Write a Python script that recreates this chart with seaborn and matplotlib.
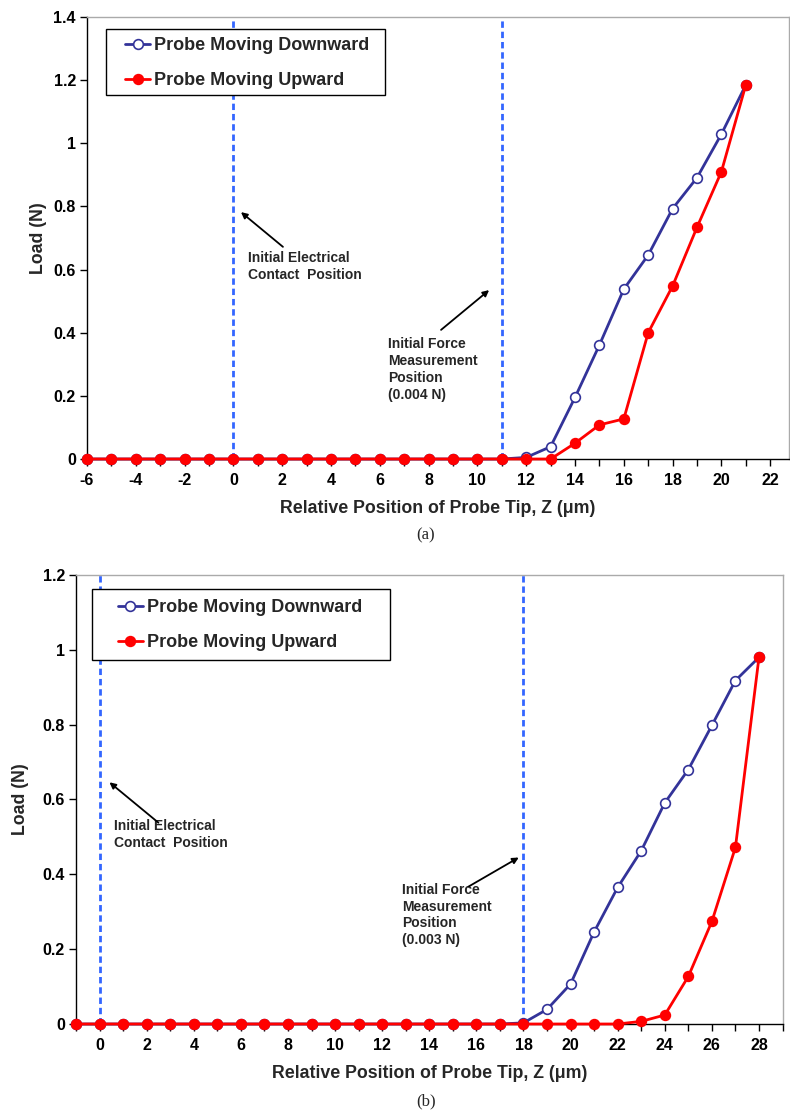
import matplotlib
matplotlib.use("Agg")
import matplotlib.pyplot as plt
import seaborn as sns
import pandas as pd
from matplotlib.patches import Rectangle
from matplotlib.ticker import MultipleLocator, FuncFormatter

# ---------------- data ----------------
top_x = [-6, -5, -4, -3, -2, -1, 0, 1, 2, 3, 4, 5, 6, 7, 8, 9, 10, 11,
         12, 13, 14, 15, 16, 17, 18, 19, 20, 21]
top_down = [0, 0, 0, 0, 0, 0, 0, 0, 0, 0, 0, 0, 0, 0, 0, 0, 0, 0,
            0.005, 0.039, 0.195, 0.361, 0.538, 0.646, 0.793, 0.891, 1.029, 1.185]
top_up = [0, 0, 0, 0, 0, 0, 0, 0, 0, 0, 0, 0, 0, 0, 0, 0, 0, 0,
          0, 0, 0.050, 0.108, 0.127, 0.400, 0.548, 0.734, 0.910, 1.185]

bot_x = [-1, 0, 1, 2, 3, 4, 5, 6, 7, 8, 9, 10, 11, 12, 13, 14, 15, 16, 17,
         18, 19, 20, 21, 22, 23, 24, 25, 26, 27, 28]
bot_down = [0, 0, 0, 0, 0, 0, 0, 0, 0, 0, 0, 0, 0, 0, 0, 0, 0, 0, 0,
            0.003, 0.039, 0.107, 0.246, 0.365, 0.463, 0.591, 0.680, 0.798, 0.918, 0.980]
bot_up = [0, 0, 0, 0, 0, 0, 0, 0, 0, 0, 0, 0, 0, 0, 0, 0, 0, 0, 0,
          0, 0, 0, 0, 0, 0.007, 0.024, 0.127, 0.274, 0.472, 0.980]

series_labels = ["Probe Moving Downward", "Probe Moving Upward"]
x_label = "Relative Position of Probe Tip, Z (\u03bcm)"
y_label = "Load (N)"
captions = ["(a)", "(b)"]
note_contact = "Initial Electrical\nContact  Position"
note_force_a = "Initial Force\nMeasurement\nPosition\n(0.004 N)"
note_force_b = "Initial Force\nMeasurement\nPosition\n(0.003 N)"

# ---------------- style ----------------
sns.set_theme(style="white")
plt.rcParams['font.family'] = ['Liberation Sans', 'DejaVu Sans']
plt.rcParams['font.weight'] = 'bold'

W, H = 790, 1111
fig = plt.figure(figsize=(W / 100, H / 100), dpi=100)

BLUE = "#333399"
RED = "#ff0000"
DASH = "#3366ff"


def px_axes(left, top, right, bottom):
    return fig.add_axes([left / W, 1 - bottom / H, (right - left) / W, (bottom - top) / H])


def draw_panel(ax, xs, down, up, xlim, ylim, xmaj_start, vlines, arrows,
               legend_box, legend_anchor, ylabel_x):
    df = pd.DataFrame({"x": xs, "down": down, "up": up})
    sns.lineplot(data=df, x="x", y="down", ax=ax, color=BLUE, lw=2.0, marker="o",
                 markersize=7, markerfacecolor="white", markeredgecolor=BLUE,
                 markeredgewidth=1.2, label=series_labels[0], clip_on=False, zorder=4)
    sns.lineplot(data=df, x="x", y="up", ax=ax, color=RED, lw=2.0, marker="o",
                 markersize=7, markerfacecolor=RED, markeredgecolor=RED,
                 markeredgewidth=1.2, label=series_labels[1], clip_on=False, zorder=5)
    for v in vlines:
        ax.axvline(v, color=DASH, lw=2.0, ls=(0, (2.3, 1.4)), zorder=2)
    ax.set_xlim(*xlim)
    ax.set_ylim(*ylim)
    ax.xaxis.set_major_locator(MultipleLocator(2))
    ax.xaxis.set_minor_locator(MultipleLocator(1))
    ax.yaxis.set_major_locator(MultipleLocator(0.2))
    ax.xaxis.set_major_formatter(FuncFormatter(lambda v, p: f"{v:g}" if v >= xmaj_start - 0.01 else ""))
    ax.yaxis.set_major_formatter(FuncFormatter(lambda v, p: f"{round(v, 1):g}"))
    ax.tick_params(axis="both", which="both", direction="out", colors="black",
                   labelsize=11.5, width=1)
    ax.tick_params(axis="x", which="major", length=5, pad=5)
    ax.tick_params(axis="x", which="minor", length=5)
    ax.tick_params(axis="y", which="major", length=5, pad=3)
    ax.tick_params(left=True, bottom=True, which="both")
    for lab in ax.get_xticklabels() + ax.get_yticklabels():
        lab.set_fontweight("bold")
    ax.spines["left"].set_color("black")
    ax.spines["bottom"].set_color("black")
    ax.spines["top"].set_color("#aaaaaa")
    ax.spines["right"].set_color("#aaaaaa")
    for s in ax.spines.values():
        s.set_linewidth(1.0)
    ax.set_xlabel(x_label, fontsize=12.8, fontweight="bold", labelpad=9)
    ax.set_ylabel(y_label, fontsize=12.8, fontweight="bold")
    ax.yaxis.set_label_coords(ylabel_x, 0.5)

    for xy, xytext in arrows:
        ax.annotate("", xy=xy, xytext=xytext,
                    arrowprops=dict(arrowstyle="-|>", color="black", lw=1.3,
                                    mutation_scale=9, shrinkA=0, shrinkB=0), zorder=6)
    # legend frame drawn as a separate box, legend itself frameless
    x0, y0, w, h = legend_box
    ax.add_patch(Rectangle((x0, y0), w, h, transform=ax.transAxes, facecolor="white",
                           edgecolor="black", lw=1.0, zorder=9, clip_on=False))
    leg = ax.legend(loc="center left", bbox_to_anchor=legend_anchor, frameon=False,
                    prop={"size": 13, "weight": "bold"}, handlelength=1.39,
                    handletextpad=0.22, labelspacing=0.99, borderpad=0,
                    borderaxespad=0)
    leg.set_zorder(10)
    return ax


# ---------- panel (a) ----------
ax1 = px_axes(87, 17, 789, 459)
draw_panel(ax1, top_x, top_down, top_up, (-6, 22.77), (0, 1.4), -6,
           [0, 11],
           [((0.31, 0.782), (2.03, 0.672)), ((10.48, 0.535), (8.51, 0.409))],
           (0.0271, 0.8235, 0.3974, 0.1493), (0.0541, 0.8959), -0.057)
ax1.text(0.58, 0.658, note_contact, fontsize=10, fontweight="bold",
         va="top", ha="left", linespacing=1.25)
ax1.text(6.35, 0.385, note_force_a, fontsize=10, fontweight="bold",
         va="top", ha="left", linespacing=1.25)

# ---------- panel (b) ----------
ax2 = px_axes(76, 575, 783, 1024)
draw_panel(ax2, bot_x, bot_down, bot_up, (-1, 29.02), (0, 1.2), 0,
           [0, 18],
           [((0.42, 0.646), (2.5, 0.538)), ((17.8, 0.445), (15.66, 0.367))],
           (0.0222, 0.8107, 0.4213, 0.1581), (0.0589, 0.8886), -0.067)
ax2.text(0.62, 0.547, note_contact, fontsize=10, fontweight="bold",
         va="top", ha="left", linespacing=1.25)
ax2.text(12.85, 0.377, note_force_b, fontsize=10, fontweight="bold",
         va="top", ha="left", linespacing=1.25)

fig.text(426 / W, 1 - 535 / H, captions[0], ha="center", va="center",
         fontsize=12, family=["Liberation Serif", "DejaVu Serif"], fontweight="normal")
fig.text(426 / W, 1 - 1101 / H, captions[1], ha="center", va="center",
         fontsize=12, family=["Liberation Serif", "DejaVu Serif"], fontweight="normal")

fig.savefig("out.png", dpi=100, facecolor="white")
